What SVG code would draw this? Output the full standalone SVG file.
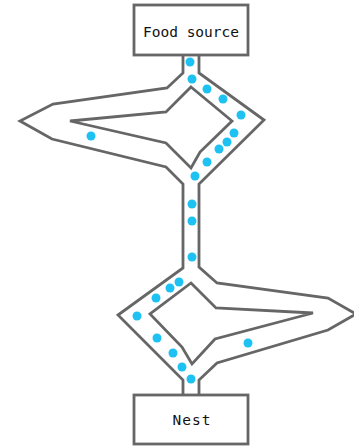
<svg xmlns="http://www.w3.org/2000/svg" width="354" height="446" viewBox="0 0 354 446">
<style>
.w{fill:none;stroke:#666;stroke-width:2.8;stroke-linejoin:miter}
.box{fill:#fff;stroke:#666;stroke-width:2.8}
.t{font-family:"DejaVu Sans Mono","Liberation Mono",monospace;font-size:14.5px;fill:#111;text-anchor:middle}
.ant{fill:#1ec2f2}
</style>
<rect width="354" height="446" fill="#fff"/>
<g id="channels">
<path class="w" d="M183,55 L183,73 L167,88 L53,104 L20,121 L52,139 L166,167 L183,184 L183,268 L118,315 L183,380 L183,395"/>
<path class="w" d="M199,395 L199,380 L217,363 L328,330 L356,314 L328,298 L217,283 L199,267 L199,184 L264,120 L199,73 L199,55"/>
<path id="island-top" class="w" d="M191,87 L232,121 L200,152 L191,168 L166,143 L70,121 L166,112 Z"/>
<path id="island-bottom" class="w" d="M191,283 L216,308 L313,313 L215,339 L192,364 L182,347 L150,314 Z"/>
</g>
<g id="food-source">
<rect class="box" x="134" y="5" width="114" height="50"/>
<text class="t" x="191" y="37">Food source</text>
</g>
<g id="nest">
<rect class="box" x="134" y="395" width="114" height="49"/>
<text class="t" x="192" y="425" letter-spacing="1">Nest</text>
</g>
<g id="ants">
<circle class="ant" cx="190" cy="62" r="4.5"/>
<circle class="ant" cx="192" cy="79" r="4.5"/>
<circle class="ant" cx="207" cy="89" r="4.5"/>
<circle class="ant" cx="223" cy="99" r="4.5"/>
<circle class="ant" cx="241" cy="115" r="4.5"/>
<circle class="ant" cx="234" cy="133" r="4.5"/>
<circle class="ant" cx="227" cy="142" r="4.5"/>
<circle class="ant" cx="219" cy="149" r="4.5"/>
<circle class="ant" cx="207" cy="162" r="4.5"/>
<circle class="ant" cx="195" cy="176" r="4.5"/>
<circle class="ant" cx="91" cy="136" r="4.5"/>
<circle class="ant" cx="192" cy="204" r="4.5"/>
<circle class="ant" cx="192" cy="221" r="4.5"/>
<circle class="ant" cx="192" cy="257" r="4.5"/>
<circle class="ant" cx="179" cy="282" r="4.5"/>
<circle class="ant" cx="170" cy="288" r="4.5"/>
<circle class="ant" cx="156" cy="298" r="4.5"/>
<circle class="ant" cx="137" cy="316" r="4.5"/>
<circle class="ant" cx="157" cy="338" r="4.5"/>
<circle class="ant" cx="173" cy="353" r="4.5"/>
<circle class="ant" cx="182" cy="367" r="4.5"/>
<circle class="ant" cx="191" cy="379" r="4.5"/>
<circle class="ant" cx="248" cy="343" r="4.5"/>
</g>
</svg>
